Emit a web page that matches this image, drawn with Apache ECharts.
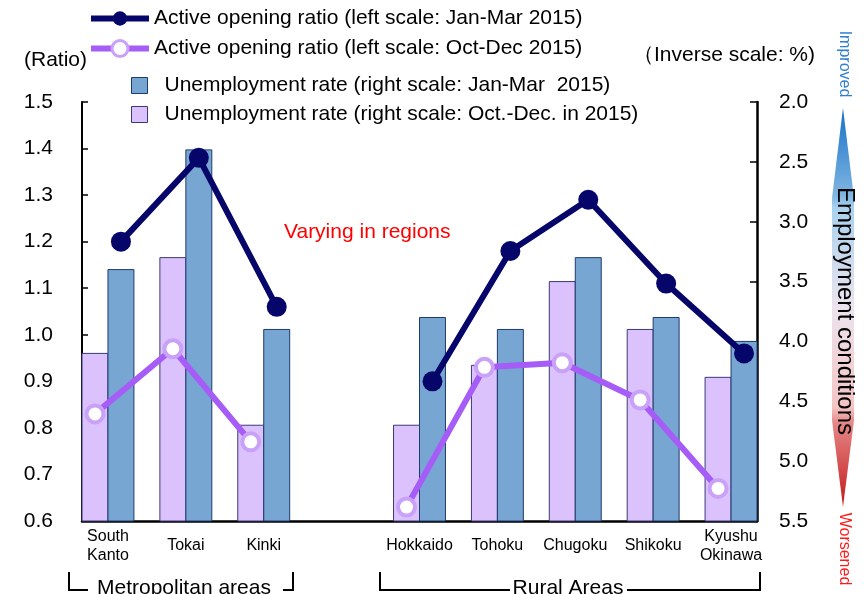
<!DOCTYPE html>
<html>
<head>
<meta charset="utf-8">
<script src="https://cdn.jsdelivr.net/npm/echarts@6/dist/echarts.min.js"></script>
<style>
  html, body { margin: 0; padding: 0; background: #fff; }
  #chart { width: 864px; height: 594px; }
</style>
</head>
<body>
<div id="chart"></div>
<script>
// regions, with an empty slot between the two groups
const categories = ['South\nKanto', 'Tokai', 'Kinki', '', 'Hokkaido', 'Tohoku', 'Chugoku', 'Shikoku', 'Kyushu\nOkinawa'];
// active opening ratio (left scale)
const ratioJanMar = [1.20, 1.38, 1.06, null, 0.90, 1.18, 1.29, 1.11, 0.96];
const ratioOctDec = [0.83, 0.97, 0.77, null, 0.63, 0.93, 0.94, 0.86, 0.67];
// unemployment rate % (right scale, inverse)
const unempJanMar = [3.4, 2.4, 3.9, null, 3.8, 3.9, 3.3, 3.8, 4.0];
const unempOctDec = [4.1, 3.3, 4.7, null, 4.7, 4.2, 3.5, 3.9, 4.3];
// axis ranges
const leftMin = 0.6, leftMax = 1.5, leftStep = 0.1;
const rightMin = 2.0, rightMax = 5.5, rightStep = 0.5;

const FONT = "'Liberation Sans', Arial, sans-serif";
const names = {
  lineJM: 'Active opening ratio (left scale: Jan-Mar 2015)',
  lineOD: 'Active opening ratio (left scale: Oct-Dec 2015)',
  barJM: 'Unemployment rate (right scale: Jan-Mar  2015)',
  barOD: 'Unemployment rate (right scale: Oct.-Dec. in 2015)'
};
const blue = '#78a6d3', blueEdge = '#1f3a6e';
const pink = '#dcc2fd', pinkEdge = '#3a3a78';
const navy = '#05056a', violet = '#a65cf7', violetEdge = '#c9a1f9';

const slots = categories.map((c, i) => i).filter(i => categories[i] !== '');

// bars hang from the bottom of the inverse right axis
function barSeries(name, values, side, fill, edge) {
  return {
    name: name,
    type: 'custom',
    xAxisIndex: 0,
    yAxisIndex: 1,
    itemStyle: { color: fill, borderColor: edge, borderWidth: 1 },
    data: values.map((v, i) => v == null ? null : [i, v]).filter(d => d),
    renderItem: function (params, api) {
      const top = api.coord([api.value(0), api.value(1)]);
      const base = api.coord([api.value(0), rightMax]);
      const w = api.size([1, 0])[0] / 3;
      return {
        type: 'rect',
        shape: { x: side < 0 ? top[0] - w : top[0], y: top[1], width: w, height: base[1] - top[1] },
        style: { fill: fill, stroke: edge, lineWidth: 1 }
      };
    },
    z: 2
  };
}

// line points sit over the middle of their own bar
function linePoints(values, shift) {
  return values.map((v, i) => [i + shift, v == null ? '-' : v]);
}

const legendText = { fontSize: 21, fontFamily: FONT, color: '#000' };

const chart = echarts.init(document.getElementById('chart'));
const option = {
  animation: false,
  textStyle: { fontFamily: FONT, color: '#000' },
  grid: { left: 82, right: 107, top: 102, bottom: 73 },
  xAxis: {
    type: 'value',
    min: -1 / 3,
    max: 25 / 3,
    splitLine: { show: false },
    axisLine: { show: true, onZero: false, lineStyle: { color: '#000', width: 2.5 } },
    axisTick: { show: false },
    axisLabel: {
      customValues: slots,
      formatter: v => categories[Math.round(v)],
      fontSize: 16,
      lineHeight: 19,
      color: '#000',
      fontFamily: FONT,
      verticalAlign: 'middle',
      margin: 25
    }
  },
  yAxis: [
    {
      type: 'value',
      min: leftMin,
      max: leftMax,
      interval: leftStep,
      splitLine: { show: false },
      axisLine: { show: true, onZero: false, lineStyle: { color: '#000', width: 2 } },
      axisTick: { show: true, inside: true, length: 6, lineStyle: { color: '#000', width: 1.5 } },
      axisLabel: { formatter: v => v.toFixed(1), fontSize: 21, color: '#000', fontFamily: FONT, margin: 29 }
    },
    {
      type: 'value',
      inverse: true,
      min: rightMin,
      max: rightMax,
      interval: rightStep,
      splitLine: { show: false },
      axisLine: { show: true, onZero: false, lineStyle: { color: '#000', width: 2.5 } },
      axisTick: { show: true, inside: true, length: 7, lineStyle: { color: '#000', width: 1.5 } },
      axisLabel: { formatter: v => v.toFixed(1), fontSize: 21, color: '#000', fontFamily: FONT, margin: 22 }
    }
  ],
  legend: [
    {
      left: 88, top: 8, padding: 0, itemWidth: 58, itemHeight: 18,
      lineStyle: { width: 6 },
      textStyle: legendText,
      data: [names.lineJM]
    },
    {
      left: 88, top: 38, padding: 0, itemWidth: 58, itemHeight: 20,
      lineStyle: { width: 6 },
      itemStyle: { borderWidth: 3 },
      textStyle: legendText,
      data: [names.lineOD]
    },
    {
      left: 131, top: 75, padding: 0, itemWidth: 16, itemHeight: 16,
      textStyle: Object.assign({ padding: [0, 0, 0, 12] }, legendText),
      data: [{ name: names.barJM, icon: 'rect', itemStyle: { color: blue, borderColor: blueEdge, borderWidth: 1 } }]
    },
    {
      left: 131, top: 104, padding: 0, itemWidth: 16, itemHeight: 16,
      textStyle: Object.assign({ padding: [0, 0, 0, 12] }, legendText),
      data: [{ name: names.barOD, icon: 'rect', itemStyle: { color: pink, borderColor: pinkEdge, borderWidth: 1 } }]
    }
  ],
  series: [
    barSeries(names.barOD, unempOctDec, -1, pink, pinkEdge),
    barSeries(names.barJM, unempJanMar, 1, blue, blueEdge),
    {
      name: names.lineJM,
      type: 'line',
      yAxisIndex: 0,
      data: linePoints(ratioJanMar, 1 / 6),
      connectNulls: false,
      symbol: 'circle',
      symbolSize: 20,
      lineStyle: { color: navy, width: 6 },
      itemStyle: { color: navy },
      z: 4
    },
    {
      name: names.lineOD,
      type: 'line',
      yAxisIndex: 0,
      data: linePoints(ratioOctDec, -1 / 6),
      connectNulls: false,
      symbol: 'circle',
      symbolSize: 17,
      lineStyle: { color: violet, width: 6 },
      itemStyle: { color: '#fff', borderColor: violetEdge, borderWidth: 4 },
      z: 4
    }
  ],
  graphic: [
    { type: 'text', left: 24, top: 50, style: { text: '(Ratio)', fontSize: 21, fontFamily: FONT, fill: '#000' } },
    { type: 'text', right: 49, top: 45, style: { text: '\uFF08Inverse scale: %)', fontSize: 21, fontFamily: FONT, fill: '#000' } },
    { type: 'text', left: 284, top: 222, style: { text: 'Varying in regions', fontSize: 21, fontFamily: FONT, fill: '#ff0000' } },
    // employment conditions arrow
    {
      type: 'polygon', z: 1,
      shape: { points: [[843, 108], [854, 198], [854, 420], [843, 507], [832, 420], [832, 198]] },
      style: {
        fill: new echarts.graphic.LinearGradient(0, 0, 0, 1, [
          { offset: 0, color: '#1570c6' },
          { offset: 0.22, color: '#80b6e2' },
          { offset: 0.25, color: '#a9d1ee' },
          { offset: 0.5, color: '#ece4ee' },
          { offset: 0.75, color: '#f4c4c4' },
          { offset: 0.79, color: '#e58686' },
          { offset: 1, color: '#c41a1a' }
        ])
      }
    },
    {
      type: 'text', x: 844, y: 64, rotation: -Math.PI / 2, z: 2,
      style: { text: 'Improved', fontSize: 16, fontFamily: FONT, fill: '#2f7fd0', align: 'center', verticalAlign: 'middle' }
    },
    {
      type: 'text', x: 845, y: 311, rotation: -Math.PI / 2, z: 2,
      style: { text: 'Employment conditions', fontSize: 24, fontFamily: FONT, fill: '#000', align: 'center', verticalAlign: 'middle' }
    },
    {
      type: 'text', x: 844, y: 549, rotation: -Math.PI / 2, z: 2,
      style: { text: 'Worsened', fontSize: 16, fontFamily: FONT, fill: '#ff1a1a', align: 'center', verticalAlign: 'middle' }
    },
    // region group brackets
    { type: 'polyline', shape: { points: [[69, 572], [69, 590], [88, 590]] }, style: { stroke: '#000', lineWidth: 2, fill: null } },
    { type: 'polyline', shape: { points: [[283, 590], [293, 590], [293, 572]] }, style: { stroke: '#000', lineWidth: 2, fill: null } },
    { type: 'text', x: 97, y: 588, style: { text: 'Metropolitan areas', fontSize: 21, fontFamily: FONT, fill: '#000', verticalAlign: 'middle' } },
    { type: 'polyline', shape: { points: [[380, 572], [380, 590], [510, 590]] }, style: { stroke: '#000', lineWidth: 2, fill: null } },
    { type: 'polyline', shape: { points: [[627, 590], [760, 590], [760, 572]] }, style: { stroke: '#000', lineWidth: 2, fill: null } },
    { type: 'text', x: 568, y: 588, style: { text: 'Rural Areas', fontSize: 21, fontFamily: FONT, fill: '#000', align: 'center', verticalAlign: 'middle' } }
  ]
};
chart.setOption(option);
</script>
</body>
</html>
